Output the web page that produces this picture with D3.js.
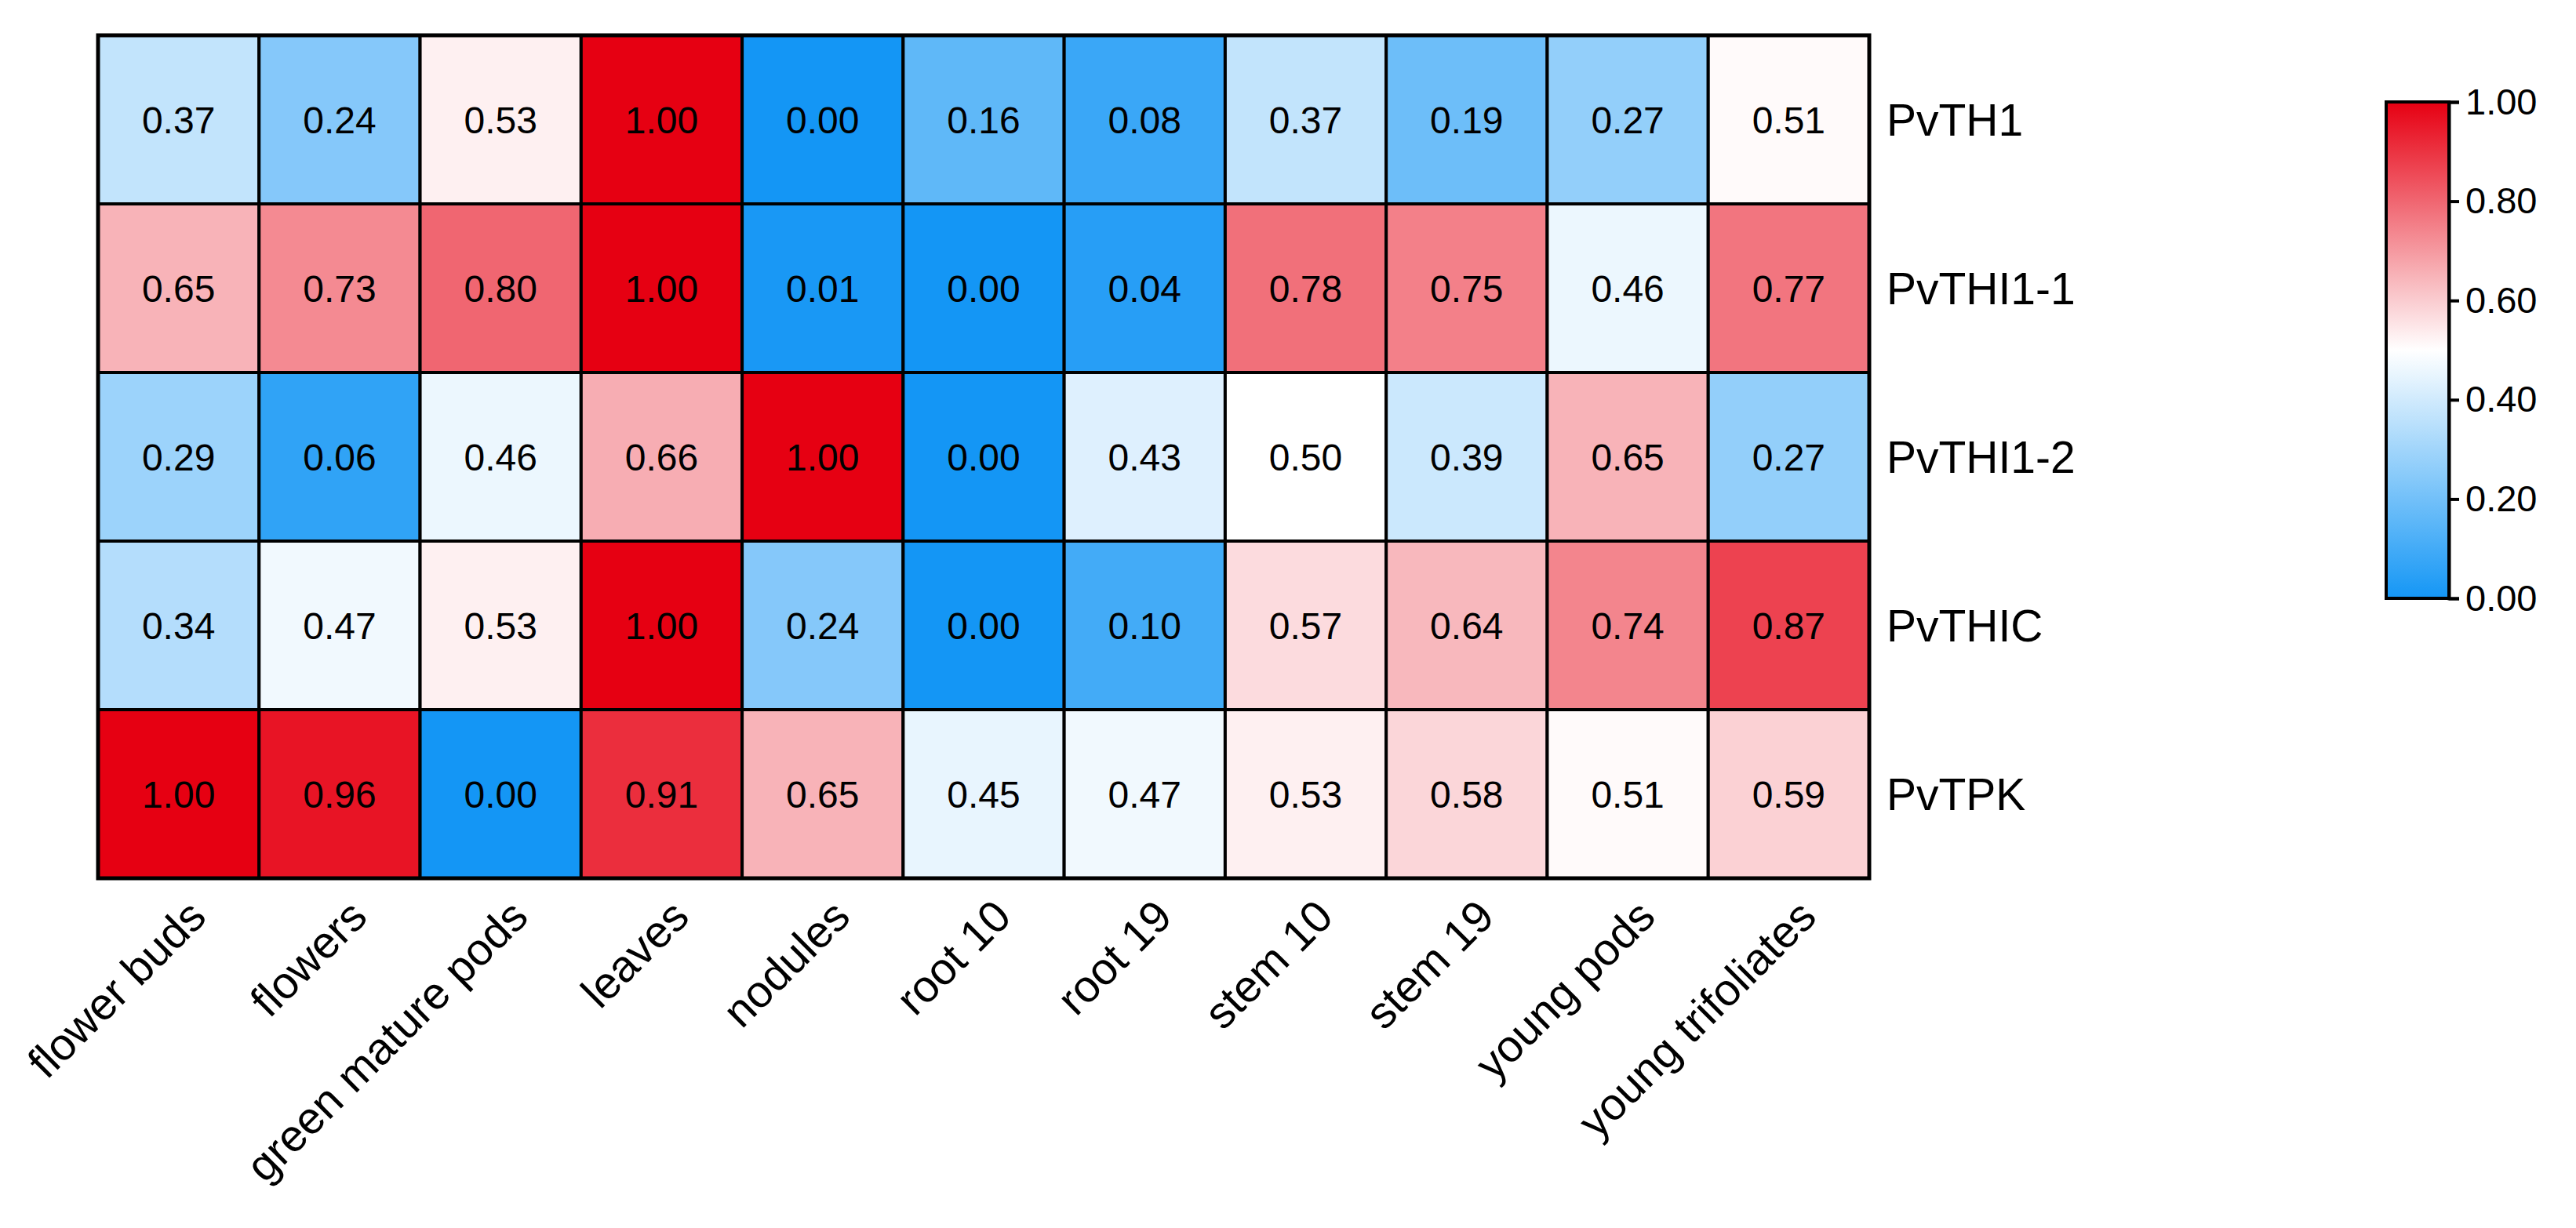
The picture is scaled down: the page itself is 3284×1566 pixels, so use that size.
<!DOCTYPE html>
<html>
<head>
<meta charset="utf-8">
<script src="https://cdn.jsdelivr.net/npm/d3@7"></script>
<style>
  body { margin: 0; background: #fff; }
  text { font-family: "Liberation Sans", Arial, sans-serif; fill: #000; }
</style>
</head>
<body>
<div id="chart"></div>
<script>
// genes (rows) and tissues (columns)
let genes = ["PvTH1", "PvTHI1-1", "PvTHI1-2", "PvTHIC", "PvTPK"];
let tissues = ["flower buds", "flowers", "green mature pods", "leaves", "nodules",
    "root 10", "root 19", "stem 10", "stem 19", "young pods", "young trifoliates"];

// relative expression, one array per gene
let pvTH1   = [0.37, 0.24, 0.53, 1.00, 0.00, 0.16, 0.08, 0.37, 0.19, 0.27, 0.51];
let pvTHI11 = [0.65, 0.73, 0.80, 1.00, 0.01, 0.00, 0.04, 0.78, 0.75, 0.46, 0.77];
let pvTHI12 = [0.29, 0.06, 0.46, 0.66, 1.00, 0.00, 0.43, 0.50, 0.39, 0.65, 0.27];
let pvTHIC  = [0.34, 0.47, 0.53, 1.00, 0.24, 0.00, 0.10, 0.57, 0.64, 0.74, 0.87];
let pvTPK   = [1.00, 0.96, 0.00, 0.91, 0.65, 0.45, 0.47, 0.53, 0.58, 0.51, 0.59];
let rows = [pvTH1, pvTHI11, pvTHI12, pvTHIC, pvTPK];

// colour bar ticks
let legendTicks = [0, 0.2, 0.4, 0.6, 0.8, 1.0];

let W = 3284, H = 1566;

let svg = d3.select("#chart").append("svg")
    .attr("width", W)
    .attr("height", H);

// grid area
let gx0 = 125, gx1 = 2383, gy0 = 45, gy1 = 1120;

let x = d3.scaleBand().domain(tissues).range([gx0, gx1]);
let y = d3.scaleBand().domain(genes).range([gy0, gy1]);

// blue - white - red
let color = d3.scaleLinear()
    .domain([0, 0.5, 1])
    .range(["rgb(20,150,245)", "#ffffff", "rgb(230,0,18)"]);

// flatten to cells
let cells = [];
rows.forEach((r, i) => {
    r.forEach((v, j) => {
        cells.push({gene: genes[i], tissue: tissues[j], val: v});
    });
});

svg.selectAll("rect.cell")
    .data(cells)
    .enter()
    .append("rect")
        .attr("class", "cell")
        .attr("x", d => x(d.tissue))
        .attr("y", d => y(d.gene))
        .attr("width", x.bandwidth())
        .attr("height", y.bandwidth())
        .attr("fill", d => color(d.val))
        .attr("stroke", "#000")
        .attr("stroke-width", 4);

// outer frame
svg.append("rect")
    .attr("x", gx0)
    .attr("y", gy0)
    .attr("width", gx1 - gx0)
    .attr("height", gy1 - gy0)
    .attr("fill", "none")
    .attr("stroke", "#000")
    .attr("stroke-width", 5);

// cell values
svg.selectAll("text.val")
    .data(cells)
    .enter()
    .append("text")
        .attr("class", "val")
        .attr("x", d => x(d.tissue) + x.bandwidth() / 2)
        .attr("y", d => y(d.gene) + y.bandwidth() / 2)
        .attr("dy", "0.36em")
        .attr("text-anchor", "middle")
        .style("font-size", "48px")
        .text(d => d.val.toFixed(2));

// row labels on the right
svg.selectAll("text.gene")
    .data(genes)
    .enter()
    .append("text")
        .attr("class", "gene")
        .attr("x", gx1 + 22)
        .attr("y", d => y(d) + y.bandwidth() / 2)
        .attr("dy", "0.36em")
        .style("font-size", "57px")
        .text(d => d);

// rotated column labels
svg.selectAll("text.tissue")
    .data(tissues)
    .enter()
    .append("text")
        .attr("class", "tissue")
        .attr("text-anchor", "end")
        .attr("transform", d => "translate(" + (x(d) + x.bandwidth() / 2 + 38) + "," + (gy1 + 52) + ") rotate(-45)")
        .style("font-size", "57px")
        .text(d => d);

// colour bar
let cbX = 3042, cbW = 80, cbTop = 130, cbBot = 763;
let cbScale = d3.scaleLinear().domain([0, 1]).range([cbBot, cbTop]);

let grad = svg.append("defs").append("linearGradient")
    .attr("id", "cbgrad")
    .attr("x1", "0").attr("y1", "1")
    .attr("x2", "0").attr("y2", "0");
d3.range(0, 1.0001, 0.05).forEach(t => {
    grad.append("stop")
        .attr("offset", t)
        .attr("stop-color", color(t));
});

svg.append("rect")
    .attr("x", cbX)
    .attr("y", cbTop)
    .attr("width", cbW)
    .attr("height", cbBot - cbTop)
    .attr("fill", "url(#cbgrad)")
    .attr("stroke", "#000")
    .attr("stroke-width", 4);

let cbAxis = svg.append("g")
    .attr("transform", "translate(" + (cbX + cbW) + ",0)")
    .call(d3.axisRight(cbScale)
        .tickValues(legendTicks)
        .tickFormat(d3.format(".2f"))
        .tickSize(13)
        .tickPadding(8));
cbAxis.select(".domain").attr("stroke", "#000").attr("stroke-width", 4);
cbAxis.selectAll(".tick line").attr("stroke", "#000").attr("stroke-width", 4);
cbAxis.selectAll(".tick text")
    .style("font-size", "47px")
    .style("font-family", "'Liberation Sans', Arial, sans-serif")
    .attr("fill", "#000");
</script>
</body>
</html>
